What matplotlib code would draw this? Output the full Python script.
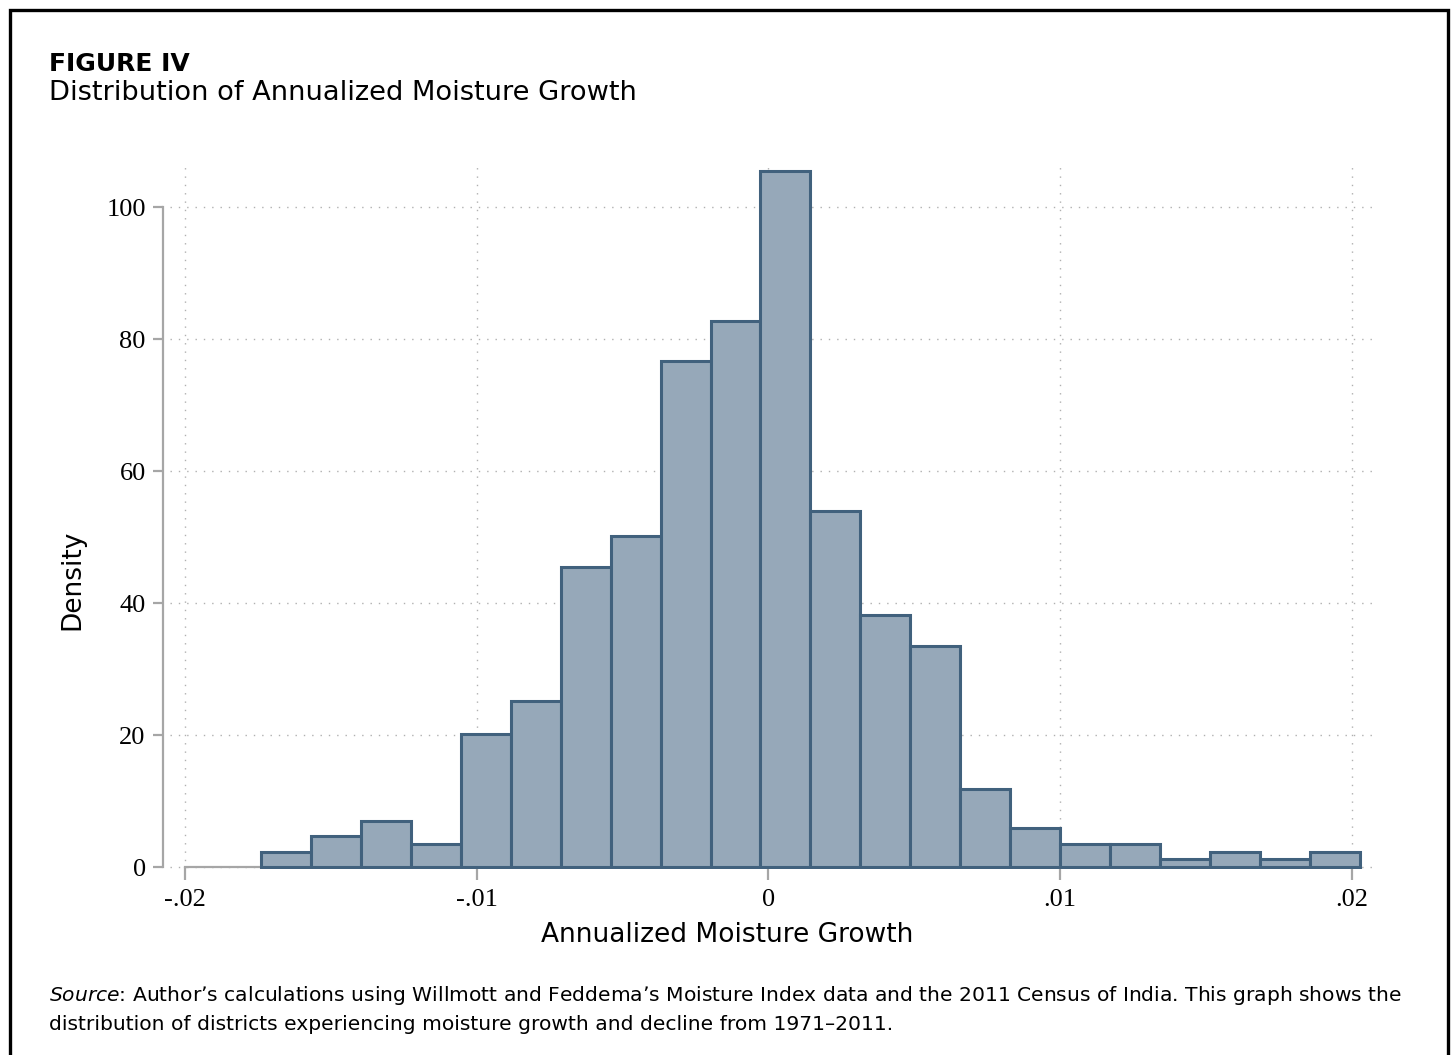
import numpy as np
import matplotlib.pyplot as plt
from matplotlib.patches import Rectangle

# histogram of annualized moisture growth (density per bin)
bin_lo = -0.017395
bin_hi = 0.02027
density = [2.3, 4.7, 7.0, 3.5, 20.2, 25.1, 45.5, 50.2, 76.7, 82.7, 105.5,
           53.9, 38.2, 33.5, 11.8, 5.9, 3.5, 3.5, 1.2, 2.3, 1.2, 2.3]
x_ticks = [-0.02, -0.01, 0, 0.01, 0.02]
x_ticklabels = ['-.02', '-.01', '0', '.01', '.02']
y_ticks = [0, 20, 40, 60, 80, 100]

W, H = 1454, 1055
sans = ['DejaVu Sans']
serif = ['Liberation Serif', 'DejaVu Serif']
fill = '#96a8b9'
edge = '#41617d'
grey = '#a6a6a6'

fig = plt.figure(figsize=(W / 100, H / 100), dpi=100)
fig.patch.set_facecolor('white')

ax = fig.add_axes([170 / W, 1 - 869 / H, (1377 - 170) / W, (869 - 163) / H])

edges = np.linspace(bin_lo, bin_hi, len(density) + 1)
ax.bar(edges[:-1], density, width=np.diff(edges), align='edge',
       color=fill, edgecolor=edge, linewidth=2.2, zorder=5)

ax.set_xlim(-0.020514, 0.020857)
ax.set_ylim(-0.3, 106.7)

# dotted grid
for yv in y_ticks:
    ax.axhline(yv, color='#b0b0b0', lw=1.0, ls=(0, (1, 5)), zorder=1)
for xv in x_ticks:
    ax.axvline(xv, color='#b0b0b0', lw=1.0, ls=(0, (1, 5)), zorder=1)

for s in ['top', 'right']:
    ax.spines[s].set_visible(False)
ax.spines['left'].set_position(('outward', 5))
ax.spines['left'].set_bounds(0, 100)
ax.spines['bottom'].set_position(('data', 0))
ax.spines['bottom'].set_bounds(-0.02, bin_hi)
for s in ['left', 'bottom']:
    ax.spines[s].set_color(grey)
    ax.spines[s].set_linewidth(1.6)
    ax.spines[s].set_zorder(4)

ax.set_xticks(x_ticks)
ax.set_xticklabels(x_ticklabels)
ax.set_yticks(y_ticks)
ax.set_yticklabels([str(v) for v in y_ticks])
ax.tick_params(axis='x', length=9.5, width=1.6, color=grey, pad=6, labelsize=19)
ax.tick_params(axis='y', length=7.5, width=1.6, color=grey, pad=5, labelsize=19)
for lab in ax.get_xticklabels() + ax.get_yticklabels():
    lab.set_family(serif)

# labels, title and notes
fig.text(727 / W, 1 - 935 / H, 'Annualized Moisture Growth', family=sans,
         fontsize=19, ha='center', va='center')
fig.text(72 / W, 1 - 580 / H, 'Density', family=sans, fontsize=19,
         rotation=90, ha='center', va='center')
fig.text(49 / W, 1 - 71 / H, 'FIGURE IV', family=sans, fontsize=18,
         fontweight='bold', ha='left', va='baseline')
fig.text(49 / W, 1 - 100 / H, 'Distribution of Annualized Moisture Growth',
         family=sans, fontsize=19.6, ha='left', va='baseline')

note1 = ('$\\it{Source}$: Author\u2019s calculations using Willmott and '
         'Feddema\u2019s Moisture Index data and the 2011 Census of India. '
         'This graph shows the')
note2 = ('distribution of districts experiencing moisture growth and decline '
         'from 1971\u20132011.')
fig.text(49 / W, 1 - 1001 / H, note1, family=sans, fontsize=14.6,
         ha='left', va='baseline')
fig.text(49 / W, 1 - 1030 / H, note2, family=sans, fontsize=14.6,
         ha='left', va='baseline')

# frame around the figure (open at the bottom)
fig.patches.append(Rectangle((9.5 / W, -0.05), (1447.5 - 9.5) / W,
                             1.05 - 9.5 / H, transform=fig.transFigure,
                             fill=False, edgecolor='black', lw=2.4))

fig.savefig('out.png', dpi=100)
